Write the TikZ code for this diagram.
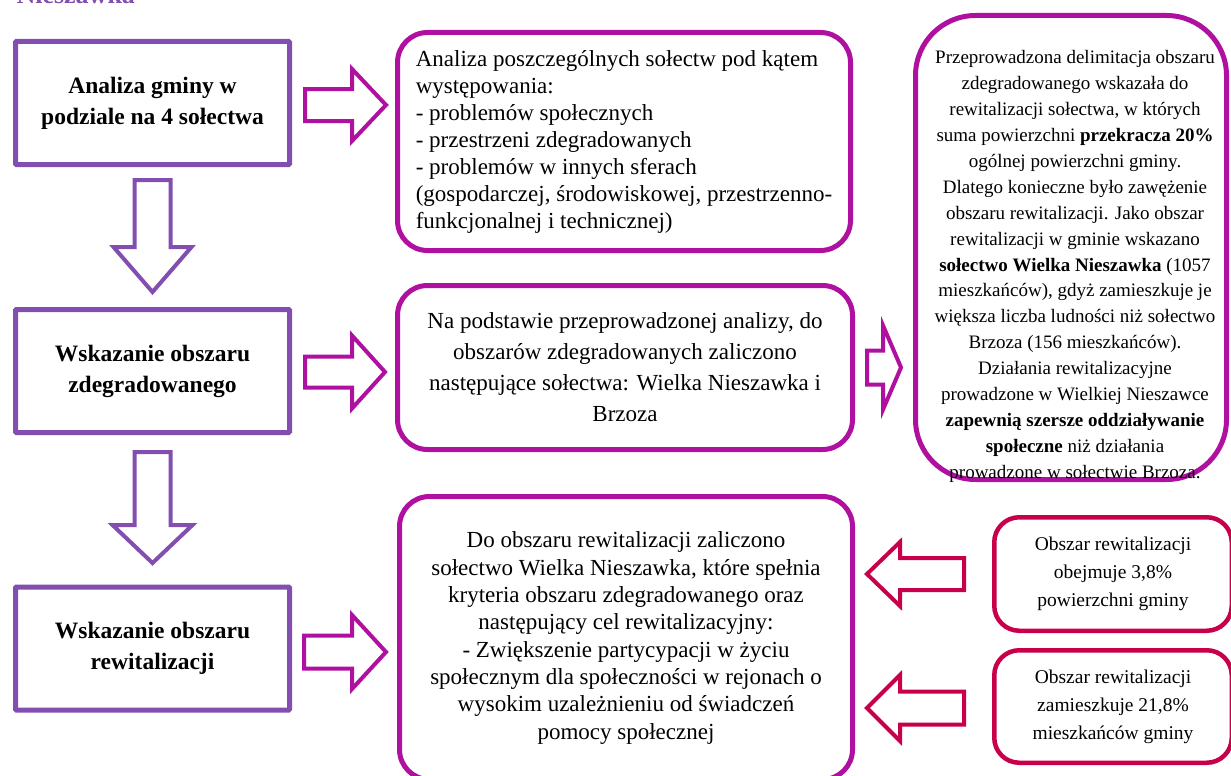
\documentclass[tikz,border=0pt]{standalone}
\usepackage{fontspec}
\setmainfont{Liberation Serif}
\usetikzlibrary{calc}

\definecolor{stagepurple}{RGB}{130,78,176}
\definecolor{infomagenta}{RGB}{176,16,160}
\definecolor{factred}{RGB}{200,0,75}

% outlined block arrow: colour, start, angle, length, head length, head half width, shaft half width
\newcommand{\blockarrow}[7]{%
  \begin{scope}[shift={#2},rotate=#3]
    \draw[#1,line width=4pt,fill=white] (0,-#7) -- (#4-#5,-#7) -- (#4-#5,-#6) -- (#4,0)
      -- (#4-#5,#6) -- (#4-#5,#7) -- (0,#7) -- cycle;
  \end{scope}}

\begin{document}
\begin{tikzpicture}[x=1pt,y=-1pt]
\tikzstyle{stagebox}=[draw=stagepurple,line width=5pt,rounded corners=1pt,minimum width=274pt,minimum height=123pt,align=center,font=\fontsize{23.5}{31}\selectfont\bfseries]
\tikzstyle{infobox}=[draw=infomagenta,line width=5pt,rounded corners=30pt,align=center,font=\fontsize{23}{27}\selectfont]
\tikzstyle{factbox}=[draw=factred,line width=4.5pt,rounded corners=25pt,minimum width=237.5pt,align=center,font=\fontsize{19.5}{28}\selectfont]

% page size of the reference
\useasboundingbox (0,0) rectangle (1231,776);

% title, cut by the top edge
\node[anchor=base west,text=stagepurple,font=\fontsize{26}{30}\selectfont\bfseries] (title) at (13,3.5) {Nieszawka};

% stages on the left
\node[stagebox] (stageA) at (152.5,103) {Analiza gminy w\\podziale na 4 sołectwa};
\node[stagebox] (stageB) at (152.5,371) {Wskazanie obszaru\\zdegradowanego};
\node[stagebox] (stageC) at (152.5,648.5) {Wskazanie obszaru\\rewitalizacji};

% descriptions in the middle
\node[infobox,minimum width=453pt,minimum height=218pt,align=left] (infoA) at (624,141.5)
  {Analiza poszczególnych sołectw pod kątem\\
   występowania:\\
   - problemów społecznych\\
   - przestrzeni zdegradowanych\\
   - problemów w innych sferach\\
   (gospodarczej, środowiskowej, przestrzenno-\\
   funkcjonalnej i technicznej)};
\node[infobox,minimum width=455pt,minimum height=164pt,font=\fontsize{23}{31}\selectfont] (infoB) at (625,367.5)
  {Na podstawie przeprowadzonej analizy, do\\
   obszarów zdegradowanych zaliczono\\
   następujące sołectwa: Wielka Nieszawka i\\
   Brzoza};
\node[infobox,minimum width=453pt,minimum height=283pt,font=\fontsize{23}{27.3}\selectfont] (infoC) at (626,638)
  {Do obszaru rewitalizacji zaliczono\\
   sołectwo Wielka Nieszawka, które spełnia\\
   kryteria obszaru zdegradowanego oraz\\
   następujący cel rewitalizacyjny:\\
   - Zwiększenie partycypacji w życiu\\
   społecznym dla społeczności w rejonach o\\
   wysokim uzależnieniu od świadczeń\\
   pomocy społecznej};

% delimitation on the right
\node[infobox,rounded corners=60pt,minimum width=311pt,minimum height=464pt] (delim) at (1071,247.5) {};
\node[align=center,font=\fontsize{19}{25.9}\selectfont] (delimtxt) at (1075,266.5)
  {Przeprowadzona delimitacja obszaru\\
   zdegradowanego wskazała do\\
   rewitalizacji sołectwa, w których\\
   suma powierzchni \textbf{przekracza 20\%}\\
   ogólnej powierzchni gminy.\\
   Dlatego konieczne było zawężenie\\
   obszaru rewitalizacji. Jako obszar\\
   rewitalizacji w gminie wskazano\\
   \textbf{sołectwo Wielka Nieszawka} (1057\\
   mieszkańców), gdyż zamieszkuje je\\
   większa liczba ludności niż sołectwo\\
   Brzoza (156 mieszkańców).\\
   Działania rewitalizacyjne\\
   prowadzone w Wielkiej Nieszawce\\
   \textbf{zapewnią szersze oddziaływanie}\\
   \textbf{społeczne} niż działania\\
   prowadzone w sołectwie Brzoza.};

% facts at the bottom right
\node[factbox,minimum height=113.5pt] (factA) at (1113,574) {Obszar rewitalizacji\\obejmuje 3,8\%\\powierzchni gminy};
\node[factbox,minimum height=112.5pt] (factB) at (1113,706.5) {Obszar rewitalizacji\\zamieszkuje 21,8\%\\mieszkańców gminy};

% arrows down
\blockarrow{stagepurple}{($(stageA.south)+(0,13)$)}{-90}{112}{45}{39}{18}
\blockarrow{stagepurple}{($(stageB.south)+(0,17)$)}{-90}{111}{38}{40}{18}

% arrows to the right
\blockarrow{infomagenta}{($(stageA.east)+(13,2)$)}{0}{81}{34}{36}{16}
\blockarrow{infomagenta}{($(stageB.east)+(13,1)$)}{0}{80}{33}{36.5}{15.5}
\blockarrow{infomagenta}{($(stageC.east)+(12,3.5)$)}{0}{82}{34}{37}{16.5}
\blockarrow{infomagenta}{($(infoB.east)+(12,0)$)}{0}{34}{18}{42}{17}

% arrows from the facts
\blockarrow{factred}{($(factA.west)+(-28,0)$)}{180}{97}{33}{32}{16}
\blockarrow{factred}{($(factB.west)+(-28,1.5)$)}{180}{97}{33}{33}{16.5}

\end{tikzpicture}
\end{document}
